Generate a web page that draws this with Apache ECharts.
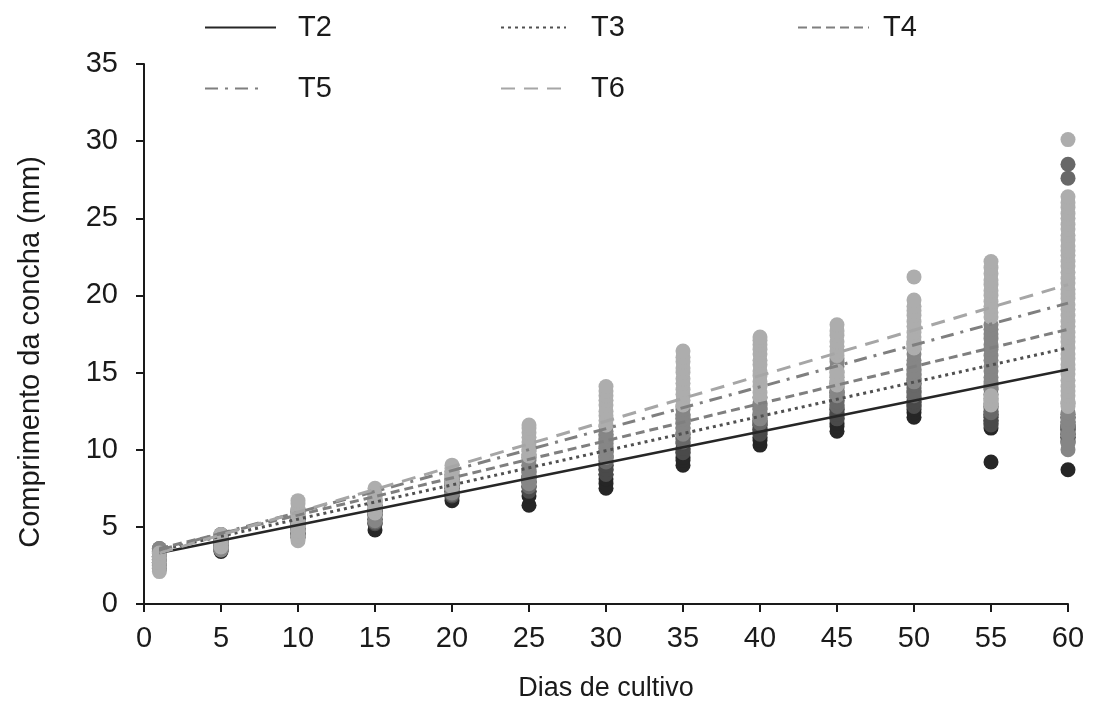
<!DOCTYPE html>
<html>
<head>
<meta charset="utf-8">
<script src="https://cdn.jsdelivr.net/npm/echarts@6/dist/echarts.min.js"></script>
<style>
  html, body { margin: 0; padding: 0; background: #ffffff; }
  #chart { width: 1094px; height: 707px; }
</style>
</head>
<body>
<div id="chart"></div>
<script>
// Sampling days (x positions of the measurement columns)
const days = [1, 5, 10, 15, 20, 25, 30, 35, 40, 45, 50, 55, 60];

// Shell length (mm) of the individuals measured on each sampling day, per treatment
const t2Values = [
  [2.3, 2.6, 2.9, 3.1, 3.4],
  [3.4, 3.7, 4.0, 4.3],
  [4.3, 4.6, 4.9, 5.2, 5.5],
  [4.8, 5.2, 5.5, 5.8, 6.0],
  [6.7, 7.0, 7.3, 7.5, 7.7],
  [6.4, 7.0, 7.3, 7.6, 7.9, 8.2],
  [7.5, 7.8, 8.1, 8.4, 8.7, 9.0],
  [9.0, 9.3, 9.5, 9.8, 10.0],
  [10.3, 10.6, 10.8, 11.1, 11.3, 11.6, 11.8],
  [11.2, 11.5, 11.7, 12.0, 12.2, 12.4, 12.6],
  [12.1, 12.4, 12.6, 12.9, 13.1],
  [9.2, 11.4, 11.7, 11.9, 12.1, 12.3],
  [8.7, 10.5, 10.8, 11.0, 11.3, 11.5]
];
const t3Values = [
  [2.5, 2.8, 3.1, 3.3, 3.5],
  [3.5, 3.8, 4.1, 4.4],
  [4.5, 4.8, 5.2, 5.5, 5.9],
  [5.2, 5.5, 5.8, 6.1, 6.4],
  [7.0, 7.3, 7.6, 7.9, 8.1],
  [7.3, 7.6, 7.9, 8.2, 8.5],
  [8.4, 8.7, 9.0, 9.3, 9.6, 9.9],
  [9.8, 10.1, 10.4, 10.7, 11.0],
  [11.0, 11.3, 11.6, 11.9, 12.2],
  [12.0, 12.3, 12.6, 12.9, 13.2, 13.5, 13.7],
  [12.8, 13.1, 13.4, 13.7, 14.0, 14.3, 14.6],
  [11.6, 11.9, 12.2, 12.5, 12.8],
  [10.8, 11.1, 11.3, 11.6, 11.8, 12.1, 12.3]
];
const t4Values = [
  [2.7, 3.0, 3.3, 3.6],
  [3.6, 3.9, 4.2, 4.5],
  [4.6, 5.0, 5.3, 5.7, 6.0],
  [5.3, 5.7, 6.0, 6.4, 6.7],
  [7.1, 7.5, 7.8, 8.1, 8.4],
  [7.6, 8.0, 8.3, 8.7, 9.0, 9.5],
  [9.2, 9.5, 9.8, 10.1, 10.4, 10.7, 11.0],
  [10.5, 10.8, 11.1, 11.4, 11.7, 12.0, 12.2],
  [11.7, 12.0, 12.3, 12.6, 12.9],
  [12.8, 13.1, 13.4, 13.7, 14.0, 14.3],
  [13.5, 13.8, 14.2, 14.5, 14.9, 15.2, 15.5],
  [12.4, 12.7, 13.0, 13.3, 13.6, 13.9, 14.2],
  [10.6, 11.0, 11.4, 11.8, 12.1, 27.6, 28.5]
];
const t5Values = [
  [2.4, 2.7, 3.0, 3.3, 3.6],
  [3.5, 3.8, 4.2, 4.5],
  [4.4, 4.8, 5.2, 5.6, 6.1],
  [5.4, 5.8, 6.2, 6.6, 7.0],
  [7.2, 7.6, 7.9, 8.3, 8.6],
  [7.8, 8.2, 8.6, 9.0, 9.3, 9.7, 10.0],
  [9.5, 9.9, 10.2, 10.6, 10.9, 11.2, 11.5],
  [11.0, 11.4, 11.7, 12.0, 12.3, 12.6, 12.8],
  [12.0, 12.4, 12.7, 13.0, 13.4],
  [13.5, 13.8, 14.1, 14.4, 14.7, 15.0, 15.4, 15.7, 15.9],
  [14.4, 14.8, 15.1, 15.5, 15.8, 16.2, 16.5, 16.8, 17.0],
  [14.0, 14.4, 14.7, 15.1, 15.4, 15.8, 16.1, 16.5, 16.8, 17.2, 17.5, 17.8, 18.1],
  [10.0, 10.4, 11.0, 11.6, 12.0, 12.4, 13.0]
];
const t6Values = [
  [2.1, 2.4, 2.7, 3.0, 3.3],
  [3.7, 4.0, 4.3, 4.5],
  [4.1, 4.4, 4.7, 5.0, 5.3, 5.6, 5.9, 6.2, 6.5, 6.7],
  [5.9, 6.2, 6.5, 6.8, 7.1, 7.5],
  [7.6, 7.9, 8.2, 8.5, 8.8, 9.0],
  [9.6, 9.9, 10.2, 10.5, 10.8, 11.1, 11.4, 11.6],
  [11.6, 11.9, 12.2, 12.5, 12.9, 13.2, 13.5, 13.8, 14.1],
  [12.9, 13.2, 13.6, 13.9, 14.3, 14.6, 15.0, 15.3, 15.7, 16.0, 16.4],
  [13.4, 13.7, 14.1, 14.4, 14.8, 15.1, 15.5, 15.8, 16.2, 16.5, 16.8, 17.1, 17.3],
  [14.2, 14.5, 14.8, 15.1, 16.1, 16.4, 16.7, 17.0, 17.4, 17.7, 18.1],
  [16.6, 16.9, 17.3, 17.6, 18.0, 18.3, 18.7, 19.0, 19.3, 19.7, 21.2],
  [12.9, 13.2, 13.5, 18.6, 18.9, 19.3, 19.6, 20.0, 20.3, 20.7, 21.0, 21.4, 21.8, 22.2],
  [12.8, 13.1, 13.5, 13.8, 14.1, 14.5, 14.9, 15.2, 15.5, 15.9, 16.2, 16.6, 17.0, 17.3,
   17.6, 18.0, 18.3, 18.7, 19.1, 19.4, 19.8, 20.1, 20.4, 20.8, 21.1, 21.5, 21.9, 22.2,
   22.6, 22.9, 23.2, 23.6, 23.9, 24.3, 24.6, 25.0, 25.3, 25.7, 26.0, 26.4, 30.1]
];

// Linear trend of each treatment, evaluated at the first and last day
const trendDays = [1, 60];
const trendT2 = [3.3, 15.2];
const trendT3 = [3.5, 16.6];
const trendT4 = [3.6, 17.8];
const trendT5 = [3.5, 19.5];
const trendT6 = [3.3, 20.7];

const treatments = ['T2', 'T3', 'T4', 'T5', 'T6'];
const pointValues = [t2Values, t3Values, t4Values, t5Values, t6Values];
const trendValues = [trendT2, trendT3, trendT4, trendT5, trendT6];

const pointColors = ['#262626', '#4a4a4a', '#686868', '#868686', '#adadad'];
const lineStyles = [
  { color: '#262626', width: 2.5, type: 'solid' },
  { color: '#505050', width: 3, type: [3, 4] },
  { color: '#7f7f7f', width: 3, type: [9, 5] },
  { color: '#7f7f7f', width: 3, type: [13, 7, 3, 7] },
  { color: '#a6a6a6', width: 3, type: [14, 9] }
];

const FONT = '"Liberation Sans", Arial, sans-serif';
const TEXT_COLOR = '#1a1a1a';

const scatterSeries = treatments.map((name, i) => ({
  name: name + ' pontos',
  type: 'scatter',
  symbol: 'circle',
  symbolSize: 15,
  itemStyle: { color: pointColors[i], opacity: 1 },
  emphasis: { disabled: true },
  z: 2 + i,
  data: days.flatMap((d, k) => pointValues[i][k].map(v => [d, v]))
}));

const trendSeries = treatments.map((name, i) => ({
  name: name,
  type: 'line',
  symbol: 'none',
  showSymbol: false,
  lineStyle: lineStyles[i],
  itemStyle: { color: lineStyles[i].color },
  z: 10 + i,
  data: trendDays.map((d, k) => [d, trendValues[i][k]])
}));

// One legend box per entry, laid out in two rows
const legendSlots = [
  { name: 'T2', left: 204, top: 13, w: 71, pad: 17 },
  { name: 'T3', left: 500, top: 13, w: 65, pad: 20 },
  { name: 'T4', left: 797, top: 13, w: 71, pad: 9 },
  { name: 'T5', left: 204, top: 74, w: 56, pad: 32 },
  { name: 'T6', left: 500, top: 74, w: 68, pad: 17 }
];

const chart = echarts.init(document.getElementById('chart'), null, { renderer: 'canvas' });
chart.setOption({
  animation: false,
  backgroundColor: '#ffffff',
  textStyle: { fontFamily: FONT },
  legend: legendSlots.map(s => ({
    data: [s.name],
    left: s.left,
    top: s.top,
    padding: 0,
    itemWidth: s.w,
    itemHeight: 14,
    selectedMode: false,
    itemStyle: { opacity: 0 },
    textStyle: { fontFamily: FONT, fontSize: 29, color: TEXT_COLOR, padding: [0, 0, 0, s.pad] }
  })),
  grid: { left: 144, right: 26, top: 64, bottom: 103, containLabel: false },
  xAxis: {
    type: 'value',
    min: 0, max: 60, interval: 5,
    name: 'Dias de cultivo',
    nameLocation: 'middle',
    nameGap: 71,
    nameTextStyle: { fontFamily: FONT, fontSize: 27, color: TEXT_COLOR },
    axisLine: { show: true, onZero: false, lineStyle: { color: TEXT_COLOR, width: 2 } },
    axisTick: { show: true, length: 8, lineStyle: { color: TEXT_COLOR, width: 2 } },
    axisLabel: { fontFamily: FONT, fontSize: 29, color: TEXT_COLOR, margin: 20 },
    splitLine: { show: false }
  },
  yAxis: {
    type: 'value',
    min: 0, max: 35, interval: 5,
    name: 'Comprimento da concha (mm)',
    nameLocation: 'middle',
    nameGap: 99,
    nameTextStyle: { fontFamily: FONT, fontSize: 29, color: TEXT_COLOR, padding: [0, 36, 0, 0] },
    axisLine: { show: true, onZero: false, lineStyle: { color: TEXT_COLOR, width: 2 } },
    axisTick: { show: true, length: 8, lineStyle: { color: TEXT_COLOR, width: 2 } },
    axisLabel: { fontFamily: FONT, fontSize: 29, color: TEXT_COLOR, margin: 26 },
    splitLine: { show: false }
  },
  series: scatterSeries.concat(trendSeries)
});
</script>
</body>
</html>
